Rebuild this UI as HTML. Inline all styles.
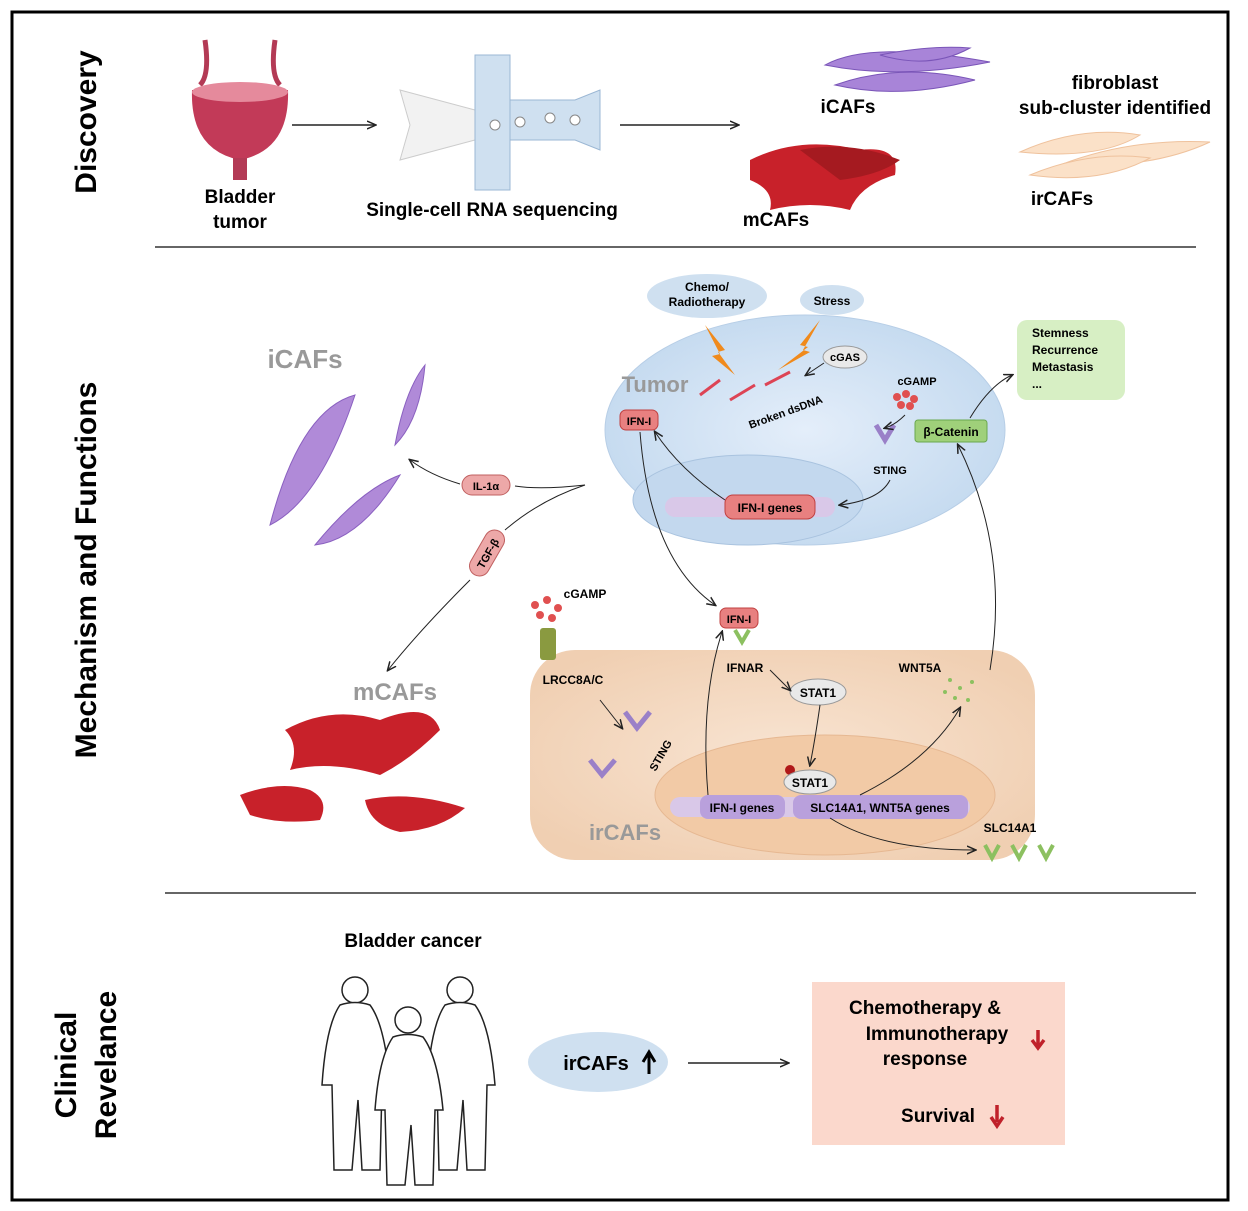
<!DOCTYPE html>
<html><head><meta charset="utf-8"><style>
body{margin:0;background:#fff;}
svg{display:block;font-family:"Liberation Sans",Arial,sans-serif;}
</style></head><body>
<svg width="1248" height="1211" viewBox="0 0 1248 1211" xmlns="http://www.w3.org/2000/svg">
<defs>
<marker id="ar" markerWidth="10" markerHeight="10" refX="8" refY="5" orient="auto" markerUnits="userSpaceOnUse"><path d="M0,1 L9,5 L0,9" fill="none" stroke="#222" stroke-width="1.5"/></marker>
<radialGradient id="tb" cx="50%" cy="50%" r="50%"><stop offset="0" stop-color="#e4eefa"/><stop offset="1" stop-color="#c6dbf0"/></radialGradient>
<radialGradient id="pb" cx="50%" cy="50%" r="60%"><stop offset="0" stop-color="#f8e4d2"/><stop offset="1" stop-color="#f0cfb2"/></radialGradient>
</defs>
<rect x="12" y="12" width="1216" height="1188" fill="#fff" stroke="#000" stroke-width="3"/>
<line x1="155" y1="247" x2="1196" y2="247" stroke="#333" stroke-width="1.5"/>
<line x1="165" y1="893" x2="1196" y2="893" stroke="#333" stroke-width="1.5"/>
<g font-weight="bold" font-size="30" fill="#000" text-anchor="middle">
<text transform="translate(96,122) rotate(-90)">Discovery</text>
<text transform="translate(96,570) rotate(-90)">Mechanism and Functions</text>
<text transform="translate(76,1065) rotate(-90)">Clinical</text>
<text transform="translate(116,1065) rotate(-90)">Revelance</text>
</g>
<!-- Discovery -->
<path d="M205,40 Q210,75 200,85 M275,40 Q270,75 280,85" stroke="#b33a55" stroke-width="5" fill="none"/>
<path d="M192,90 Q190,150 240,160 Q290,150 288,90 Z" fill="#c23a58"/>
<ellipse cx="240" cy="92" rx="48" ry="10" fill="#e58a9c"/>
<rect x="233" y="158" width="14" height="22" fill="#b33a55"/>
<path d="M400,90 L475,110 L475,140 L400,160 L410,125 Z" fill="#f2f2f2" stroke="#ccc"/>
<rect x="475" y="55" width="35" height="135" fill="#cfe0f0" stroke="#9bb7d4"/>
<path d="M510,100 L575,100 L600,90 L600,150 L575,140 L510,140 Z" fill="#cfe0f0" stroke="#9bb7d4"/>
<g fill="#fff" stroke="#888"><circle cx="495" cy="125" r="5"/><circle cx="520" cy="122" r="5"/><circle cx="550" cy="118" r="5"/><circle cx="575" cy="120" r="5"/></g>
<g font-weight="bold" font-size="19" text-anchor="middle">
<text x="240" y="203">Bladder</text><text x="240" y="228">tumor</text>
<text x="492" y="216">Single-cell RNA sequencing</text>
<text x="848" y="113">iCAFs</text><text x="776" y="226">mCAFs</text>
<text x="1115" y="89">fibroblast</text><text x="1115" y="114">sub-cluster identified</text>
<text x="1062" y="205">irCAFs</text>
</g>
<line x1="292" y1="125" x2="375" y2="125" stroke="#222" stroke-width="1.5" marker-end="url(#ar)"/>
<line x1="620" y1="125" x2="738" y2="125" stroke="#222" stroke-width="1.5" marker-end="url(#ar)"/>
<g fill="#a884d8" stroke="#7a55b8">
<path d="M825,65 Q870,40 990,62 Q900,80 825,65Z"/><path d="M835,85 Q900,62 975,80 Q900,100 835,85Z"/><path d="M880,55 Q930,45 970,48 Q930,70 880,55Z"/></g>
<g fill="#c8212a"><path d="M750,160 Q800,135 860,150 Q900,145 895,175 Q860,185 850,210 Q810,200 770,210 Q775,190 750,180Z"/><path d="M800,150 Q850,140 900,160 Q880,175 840,180Z" fill="#a51a20"/></g>
<g fill="#fbe1c8" stroke="#efc29d"><path d="M1020,152 Q1080,125 1140,135 Q1100,160 1020,152Z"/><path d="M1060,165 Q1130,138 1210,142 Q1150,170 1060,165Z"/><path d="M1030,175 Q1090,150 1150,158 Q1100,185 1030,175Z"/></g>
<!-- Mechanism -->
<ellipse cx="805" cy="430" rx="200" ry="115" fill="url(#tb)" stroke="#b7cee6"/>
<ellipse cx="748" cy="500" rx="115" ry="45" fill="#c3d8ee" stroke="#a9c3df"/>
<text x="655" y="392" font-size="22" font-weight="bold" fill="#999" text-anchor="middle">Tumor</text>
<ellipse cx="707" cy="296" rx="60" ry="22" fill="#cfe0f0"/>
<text x="707" y="291" font-size="12" font-weight="bold" text-anchor="middle">Chemo/</text>
<text x="707" y="306" font-size="12" font-weight="bold" text-anchor="middle">Radiotherapy</text>
<ellipse cx="832" cy="300" rx="32" ry="15" fill="#cfe0f0"/>
<text x="832" y="305" font-size="12" font-weight="bold" text-anchor="middle">Stress</text>
<path d="M705,325 L725,350 L718,352 L735,375 L712,356 L720,354Z M820,320 L800,345 L808,347 L778,370 L810,352 L803,350Z" fill="#f08a1c"/>
<text x="748" y="425" font-size="11" font-weight="bold" transform="rotate(-20 760 420)">Broken dsDNA</text>
<g stroke="#d45" stroke-width="3"><line x1="700" y1="395" x2="720" y2="380"/><line x1="730" y1="400" x2="755" y2="385"/><line x1="765" y1="385" x2="790" y2="372"/></g>
<ellipse cx="845" cy="357" rx="22" ry="11" fill="#e9e9e9" stroke="#999"/>
<text x="845" y="361" font-size="11" font-weight="bold" text-anchor="middle">cGAS</text>
<text x="917" y="385" font-size="11" font-weight="bold" text-anchor="middle">cGAMP</text>
<g fill="#e05050"><circle cx="897" cy="397" r="4"/><circle cx="906" cy="394" r="4"/><circle cx="914" cy="399" r="4"/><circle cx="901" cy="405" r="4"/><circle cx="910" cy="406" r="4"/></g>
<path d="M876,425 L885,440 L894,425" stroke="#9a80c8" stroke-width="5" fill="none"/>
<text x="890" y="474" font-size="11" font-weight="bold" text-anchor="middle">STING</text>
<rect x="915" y="420" width="72" height="22" rx="3" fill="#9fd07a" stroke="#6aa84f"/>
<text x="951" y="436" font-size="12" font-weight="bold" text-anchor="middle">β-Catenin</text>
<rect x="1017" y="320" width="108" height="80" rx="10" fill="#d7efc4"/>
<g font-size="12" font-weight="bold"><text x="1032" y="337">Stemness</text><text x="1032" y="354">Recurrence</text><text x="1032" y="371">Metastasis</text><text x="1032" y="388">...</text></g>
<rect x="620" y="410" width="38" height="20" rx="6" fill="#e88080" stroke="#c04040"/>
<text x="639" y="425" font-size="11" font-weight="bold" text-anchor="middle">IFN-I</text>
<rect x="665" y="497" width="170" height="20" rx="10" fill="#d9c8e8"/>
<rect x="725" y="495" width="90" height="24" rx="8" fill="#e88080" stroke="#c04040"/>
<text x="770" y="512" font-size="12" font-weight="bold" text-anchor="middle">IFN-I genes</text>
<path d="M824,363 L806,375" stroke="#222" marker-end="url(#ar)"/>
<path d="M905,415 Q895,425 885,428" stroke="#222" fill="none" marker-end="url(#ar)"/>
<path d="M890,480 Q880,500 840,505" stroke="#222" fill="none" marker-end="url(#ar)"/>
<path d="M725,500 Q680,470 655,432" stroke="#222" fill="none" marker-end="url(#ar)"/>
<path d="M970,418 Q990,385 1012,375" stroke="#222" fill="none" marker-end="url(#ar)"/>
<text x="305" y="368" font-size="26" font-weight="bold" fill="#999" text-anchor="middle">iCAFs</text>
<g fill="#b08ad8" stroke="#8a60c0">
<path d="M270,525 Q300,410 355,395 Q320,500 270,525Z"/><path d="M395,445 Q405,390 425,365 Q420,420 395,445Z"/><path d="M315,545 Q360,490 400,475 Q360,540 315,545Z"/></g>
<rect x="462" y="475" width="48" height="20" rx="10" fill="#eda8a8" stroke="#c06060"/>
<text x="486" y="490" font-size="11" font-weight="bold" text-anchor="middle">IL-1α</text>
<g transform="rotate(-60 487 553)"><rect x="462" y="543" width="50" height="20" rx="10" fill="#eda8a8" stroke="#c06060"/><text x="487" y="558" font-size="11" font-weight="bold" text-anchor="middle">TGF-β</text></g>
<path d="M585,485 Q540,490 515,486" stroke="#222" fill="none"/>
<path d="M460,484 Q430,475 410,460" stroke="#222" fill="none" marker-end="url(#ar)"/>
<path d="M585,485 Q540,500 505,530" stroke="#222" fill="none"/>
<path d="M470,580 Q420,630 388,670" stroke="#222" fill="none" marker-end="url(#ar)"/>
<text x="395" y="700" font-size="24" font-weight="bold" fill="#999" text-anchor="middle">mCAFs</text>
<g fill="#c8212a"><path d="M285,730 Q330,705 380,720 Q430,700 440,730 Q410,760 380,775 Q330,760 290,770 Q300,745 285,730Z"/><path d="M240,795 Q280,780 310,790 Q330,800 320,820 Q280,825 250,815Z"/><path d="M365,800 Q410,790 465,808 Q440,830 400,832 Q370,825 365,800Z"/></g>
<rect x="530" y="650" width="505" height="210" rx="45" fill="url(#pb)"/>
<ellipse cx="825" cy="795" rx="170" ry="60" fill="#f2caa6" stroke="#e6b892"/>
<text x="625" y="840" font-size="22" font-weight="bold" fill="#999" text-anchor="middle">irCAFs</text>
<text x="585" y="598" font-size="12" font-weight="bold" text-anchor="middle">cGAMP</text>
<g fill="#e05050"><circle cx="535" cy="605" r="4"/><circle cx="547" cy="600" r="4"/><circle cx="558" cy="608" r="4"/><circle cx="540" cy="615" r="4"/><circle cx="552" cy="618" r="4"/></g>
<rect x="540" y="628" width="16" height="32" rx="3" fill="#8a9a40"/>
<text x="573" y="684" font-size="12" font-weight="bold" text-anchor="middle">LRCC8A/C</text>
<path d="M600,700 L622,728" stroke="#222" marker-end="url(#ar)"/>
<path d="M625,712 L637,728 L650,712" stroke="#9a80c8" stroke-width="5" fill="none"/>
<path d="M590,760 L602,775 L615,760" stroke="#9a80c8" stroke-width="5" fill="none"/>
<text x="640" y="775" font-size="11" font-weight="bold" transform="rotate(-60 645 760)">STING</text>
<rect x="720" y="608" width="38" height="20" rx="6" fill="#e88080" stroke="#c04040"/>
<text x="739" y="623" font-size="11" font-weight="bold" text-anchor="middle">IFN-I</text>
<path d="M735,630 L742,642 L749,630" stroke="#8cc060" stroke-width="4" fill="none"/>
<text x="745" y="672" font-size="12" font-weight="bold" text-anchor="middle">IFNAR</text>
<ellipse cx="818" cy="692" rx="28" ry="13" fill="#e9e9e9" stroke="#999"/>
<text x="818" y="697" font-size="12" font-weight="bold" text-anchor="middle">STAT1</text>
<path d="M770,670 Q785,685 790,690" stroke="#222" fill="none" marker-end="url(#ar)"/>
<path d="M820,705 Q815,740 810,765" stroke="#222" fill="none" marker-end="url(#ar)"/>
<text x="920" y="672" font-size="12" font-weight="bold" text-anchor="middle">WNT5A</text>
<g fill="#8cc060"><circle cx="950" cy="680" r="2"/><circle cx="960" cy="688" r="2"/><circle cx="955" cy="698" r="2"/><circle cx="968" cy="700" r="2"/><circle cx="945" cy="692" r="2"/><circle cx="972" cy="682" r="2"/></g>
<circle cx="790" cy="770" r="5" fill="#b01818"/>
<ellipse cx="810" cy="782" rx="26" ry="12" fill="#e9e9e9" stroke="#999"/>
<text x="810" y="787" font-size="12" font-weight="bold" text-anchor="middle">STAT1</text>
<rect x="670" y="797" width="300" height="20" rx="10" fill="#d9c8e8"/>
<rect x="700" y="795" width="85" height="24" rx="8" fill="#b9a0dc"/>
<text x="742" y="812" font-size="12" font-weight="bold" text-anchor="middle">IFN-I genes</text>
<rect x="793" y="795" width="175" height="24" rx="8" fill="#b9a0dc"/>
<text x="880" y="812" font-size="12" font-weight="bold" text-anchor="middle">SLC14A1, WNT5A genes</text>
<text x="1010" y="832" font-size="12" font-weight="bold" text-anchor="middle">SLC14A1</text>
<path d="M985,845 L992,858 L999,845 M1012,845 L1019,858 L1026,845 M1039,845 L1046,858 L1053,845" stroke="#8cc060" stroke-width="4" fill="none"/>
<path d="M640,432 Q650,560 715,605" stroke="#222" fill="none" marker-end="url(#ar)"/>
<path d="M708,795 Q700,700 722,632" stroke="#222" fill="none" marker-end="url(#ar)"/>
<path d="M860,795 Q930,760 960,708" stroke="#222" fill="none" marker-end="url(#ar)"/>
<path d="M990,670 Q1010,550 958,445" stroke="#222" fill="none" marker-end="url(#ar)"/>
<path d="M830,818 Q880,850 975,850" stroke="#222" fill="none" marker-end="url(#ar)"/>
<!-- Clinical -->
<text x="413" y="947" font-size="19" font-weight="bold" text-anchor="middle">Bladder cancer</text>
<g fill="#fff" stroke="#222" stroke-width="1.5">
<circle cx="355" cy="990" r="13"/>
<path d="M340,1005 Q355,1000 370,1005 Q385,1025 390,1085 L382,1085 L380,1170 L362,1170 L358,1100 L352,1170 L334,1170 L332,1085 L322,1085 Q326,1025 340,1005Z"/>
<circle cx="460" cy="990" r="13"/>
<path d="M445,1005 Q460,1000 475,1005 Q490,1025 495,1085 L487,1085 L485,1170 L467,1170 L463,1100 L457,1170 L439,1170 L437,1085 L427,1085 Q431,1025 445,1005Z"/>
<circle cx="408" cy="1020" r="13"/>
<path d="M393,1037 Q408,1032 423,1037 Q438,1057 443,1110 L435,1110 L433,1185 L415,1185 L411,1125 L405,1185 L387,1185 L385,1110 L375,1110 Q379,1057 393,1037Z"/>
</g>
<ellipse cx="598" cy="1062" rx="70" ry="30" fill="#cfe0f0"/>
<text x="596" y="1070" font-size="20" font-weight="bold" text-anchor="middle">irCAFs</text>
<path d="M649,1074 L649,1055 M643,1062 L649,1052 L655,1062" stroke="#000" stroke-width="3" fill="none"/>
<line x1="688" y1="1063" x2="788" y2="1063" stroke="#222" stroke-width="1.5" marker-end="url(#ar)"/>
<rect x="812" y="982" width="253" height="163" fill="#fbd8cc"/>
<g font-size="19" font-weight="bold" text-anchor="middle"><text x="925" y="1014">Chemotherapy &amp;</text><text x="937" y="1040">Immunotherapy</text><text x="925" y="1065">response</text><text x="938" y="1122">Survival</text></g>
<path d="M1038,1030 L1038,1045 M1032,1040 L1038,1048 L1044,1040" stroke="#c0212a" stroke-width="3.5" fill="none"/>
<path d="M997,1105 L997,1122 M991,1117 L997,1126 L1003,1117" stroke="#c0212a" stroke-width="3.5" fill="none"/>
</svg>
</body></html>
